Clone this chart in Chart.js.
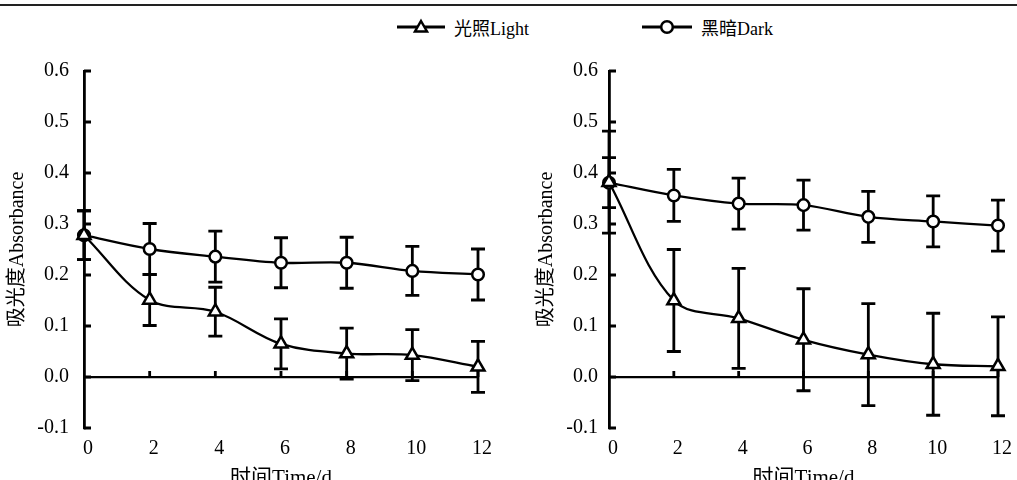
<!DOCTYPE html>
<html>
<head>
<meta charset="utf-8">
<script src="https://cdn.jsdelivr.net/npm/chart.js@4"></script>
<style>
  body { margin: 0; width: 1017px; height: 480px; overflow: hidden; background: #fff; position: relative;
         font-family: 'Liberation Serif', 'Noto Sans CJK SC', serif; }
  .topline { position: absolute; left: 0; top: 4px; width: 1017px; height: 2px; background: #222; }
  #left { position: absolute; left: 0; top: 0; }
  #right { position: absolute; left: 505px; top: 0; }
  .legend-item { position: absolute; top: 17px; height: 20px; display: flex; align-items: center; font-size: 18px; color: #000; }
  .legend-item svg { margin-right: 9px; }
</style>
</head>
<body>
<div class="topline"></div>
<div class="legend-item" style="left:397px">
  <svg width="48" height="20"><line x1="0" y1="10" x2="48" y2="10" stroke="#000" stroke-width="2.8"/><polygon points="24,4 30,14.5 18,14.5" fill="#fff" stroke="#000" stroke-width="2.5"/></svg>光照Light
</div>
<div class="legend-item" style="left:642px">
  <svg width="50" height="20"><line x1="0" y1="10" x2="50" y2="10" stroke="#000" stroke-width="2.8"/><circle cx="25" cy="10" r="5.8" fill="#fff" stroke="#000" stroke-width="2.5"/></svg>黑暗Dark
</div>
<canvas id="left" width="505" height="500"></canvas>
<canvas id="right" width="512" height="500"></canvas>
<script>
// time points (days)
const days = [0, 2, 4, 6, 8, 10, 12];

// left panel
const leftLight = [0.278, 0.151, 0.128, 0.065, 0.046, 0.043, 0.020];
const leftLightErr = [0.048, 0.050, 0.048, 0.049, 0.050, 0.050, 0.050];
const leftDark = [0.278, 0.251, 0.236, 0.224, 0.224, 0.208, 0.201];
const leftDarkErr = [0.048, 0.050, 0.050, 0.049, 0.050, 0.048, 0.050];

// right panel
const rightLight = [0.382, 0.150, 0.115, 0.073, 0.044, 0.025, 0.021];
const rightLightErr = [0.100, 0.100, 0.098, 0.100, 0.100, 0.100, 0.097];
const rightDark = [0.381, 0.356, 0.340, 0.337, 0.314, 0.305, 0.297];
const rightDarkErr = [0.049, 0.051, 0.050, 0.049, 0.050, 0.050, 0.050];

const FONT = "'Liberation Serif', 'Noto Sans CJK SC', serif";

// vertical error bars with caps, drawn under the markers
const errorBars = {
    id: 'errorBars',
    beforeDatasetsDraw(chart) {
        const { ctx, scales: { x, y } } = chart;
        ctx.save();
        ctx.strokeStyle = '#000';
        ctx.lineWidth = 2.8;
        chart.data.datasets.forEach(ds => {
            ds.data.forEach((pt, i) => {
                const e = ds.errors[i];
                const px = x.getPixelForValue(pt.x);
                const top = y.getPixelForValue(pt.y + e);
                const bot = y.getPixelForValue(pt.y - e);
                ctx.beginPath();
                ctx.moveTo(px, top); ctx.lineTo(px, bot);
                ctx.moveTo(px - 7, top); ctx.lineTo(px + 7, top);
                ctx.moveTo(px - 7, bot); ctx.lineTo(px + 7, bot);
                ctx.stroke();
            });
        });
        ctx.restore();
    }
};

// inward ticks on the y axis, upward ticks on the zero line
const axisMarks = {
    id: 'axisMarks',
    beforeDatasetsDraw(chart) {
        const { ctx, scales: { x, y } } = chart;
        const left = x.getPixelForValue(0);
        const zero = y.getPixelForValue(0);
        ctx.save();
        ctx.strokeStyle = '#000';
        ctx.lineWidth = 2.8;
        ctx.beginPath();
        y.ticks.forEach(t => {
            const py = y.getPixelForValue(t.value);
            ctx.moveTo(left, py); ctx.lineTo(left + 7, py);
        });
        x.ticks.forEach(t => {
            if (t.value === 0) return;
            const px = x.getPixelForValue(t.value);
            ctx.moveTo(px, zero); ctx.lineTo(px, zero - 6);
        });
        ctx.stroke();
        ctx.restore();
    }
};

function toPoints(values) {
    return days.map((d, i) => ({ x: d, y: values[i] }));
}

function makePanel(canvasId, light, lightErr, dark, darkErr, opts) {
    return new Chart(document.getElementById(canvasId), {
        type: 'line',
        data: {
            datasets: [
                {
                    label: '光照Light',
                    data: toPoints(light),
                    errors: lightErr,
                    pointStyle: 'triangle',
                    pointRadius: 7.5,
                    clip: false
                },
                {
                    label: '黑暗Dark',
                    data: toPoints(dark),
                    errors: darkErr,
                    pointStyle: 'circle',
                    pointRadius: 5.8,
                    clip: false
                }
            ]
        },
        options: {
            responsive: false,
            animation: false,
            devicePixelRatio: 1,
            layout: { padding: { top: 71, right: opts.padRight, left: 0, bottom: 0 } },
            plugins: {
                legend: { display: false },
                tooltip: { enabled: false }
            },
            elements: {
                line: { borderColor: '#000', borderWidth: 2.3, tension: 0.35 },
                point: { backgroundColor: '#fff', borderColor: '#000', borderWidth: 2.5 }
            },
            scales: {
                x: {
                    type: 'linear',
                    min: 0,
                    max: 12,
                    afterFit: s => { s.height = 72; },
                    grid: { display: false, drawTicks: false },
                    border: { display: false },
                    ticks: { stepSize: 2, padding: 9, labelOffset: 4, color: '#000', font: { family: FONT, size: 20 } },
                    title: {
                        display: true,
                        text: '时间Time/d',
                        color: '#000',
                        font: { family: FONT, size: 21 },
                        padding: { top: 0, bottom: 9 }
                    }
                },
                y: {
                    min: -0.1,
                    max: 0.6,
                    afterFit: s => { s.width = opts.yWidth; },
                    grid: {
                        drawTicks: false,
                        color: c => (c.tick && Math.abs(c.tick.value) < 1e-9) ? '#000' : 'rgba(0,0,0,0)',
                        lineWidth: 2.3
                    },
                    border: { display: true, color: '#000', width: 2.8 },
                    ticks: {
                        stepSize: 0.1,
                        padding: opts.yPad,
                        color: '#000',
                        font: { family: FONT, size: 20 },
                        callback: v => (Math.abs(v) < 1e-9 ? 0 : v).toFixed(1)
                    },
                    title: {
                        display: true,
                        text: '吸光度Absorbance',
                        color: '#000',
                        font: { family: FONT, size: 20 },
                        padding: { top: opts.titlePad, bottom: 0 }
                    }
                }
            }
        },
        plugins: [axisMarks, errorBars]
    });
}

makePanel('left', leftLight, leftLightErr, leftDark, leftDarkErr,
    { padRight: 27, yWidth: 84, yPad: 15, titlePad: 6 });
makePanel('right', rightLight, rightLightErr, rightDark, rightDarkErr,
    { padRight: 12, yWidth: 104, yPad: 11, titlePad: 30 });
</script>
</body>
</html>
